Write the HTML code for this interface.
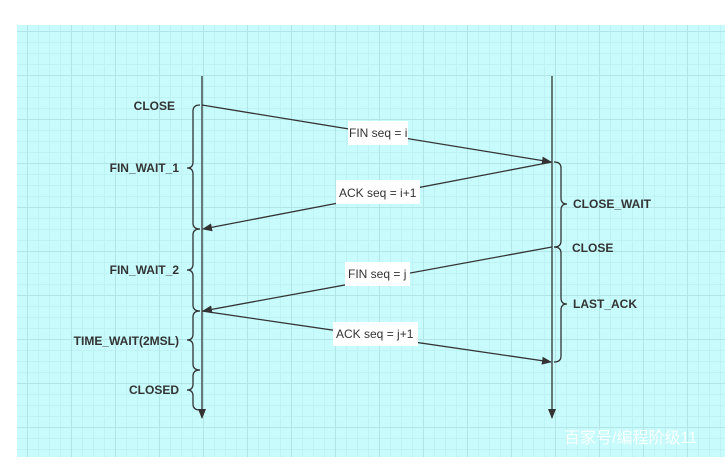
<!DOCTYPE html>
<html><head><style>
html,body{margin:0;padding:0;background:#fff;}
body{width:725px;height:469px;position:relative;overflow:hidden;font-family:"Liberation Sans","Noto Sans CJK SC",sans-serif;}
.bg{position:absolute;left:17px;top:25px;width:708px;height:432px;background-color:#c8fcfc;
background-image:linear-gradient(#b2e6e6 1px,transparent 1px),linear-gradient(90deg,#b2e6e6 1px,transparent 1px),linear-gradient(#bff2f2 1px,transparent 1px),linear-gradient(90deg,#bff2f2 1px,transparent 1px);
background-size:44px 44px,44px 44px,11px 11px,11px 11px;background-position:10px 6px,10px 6px,10px 6px,10px 6px;}
</style></head><body>
<div class="bg"></div>
<svg width="725" height="469" style="position:absolute;left:0;top:0" font-family="Liberation Sans, sans-serif">
<defs><marker id="a" markerWidth="10" markerHeight="8" refX="9" refY="4" orient="auto" markerUnits="userSpaceOnUse"><path d="M0,0 L10,4 L0,8 Z" fill="#333"/></marker></defs>
<g stroke="#333" stroke-width="1.3" fill="none">
<line x1="202" y1="76" x2="202" y2="418" marker-end="url(#a)"/>
<line x1="552" y1="76" x2="552" y2="418" marker-end="url(#a)"/>
<line x1="202" y1="105" x2="551" y2="162" marker-end="url(#a)"/>
<line x1="552" y1="162" x2="203" y2="229" marker-end="url(#a)"/>
<line x1="552" y1="247" x2="203" y2="311" marker-end="url(#a)"/>
<line x1="202" y1="311" x2="551" y2="362" marker-end="url(#a)"/>
<path d="M200,105 Q193,105 193,111 L193,162 Q193,168 187,168 Q193,168 193,174 L193,223 Q193,229 200,229"/>
<path d="M200,229 Q193,229 193,235 L193,264 Q193,270 187,270 Q193,270 193,276 L193,305 Q193,311 200,311"/>
<path d="M200,311 Q193,311 193,317 L193,334 Q193,340 187,340 Q193,340 193,346 L193,364 Q193,370 200,370"/>
<path d="M200,370 Q193,370 193,376 L193,384 Q193,390 187,390 Q193,390 193,396 L193,404 Q193,410 200,410"/>
<path d="M554,162 Q561,162 561,168 L561,198 Q561,204 567,204 Q561,204 561,210 L561,241 Q561,247 554,247"/>
<path d="M554,247 Q561,247 561,253 L561,298 Q561,304 567,304 Q561,304 561,310 L561,356 Q561,362 554,362"/>
</g>
<g fill="#fff"><rect x="348" y="121" width="60" height="24"/><rect x="336" y="180" width="84" height="24"/><rect x="345" y="262" width="65" height="24"/><rect x="333" y="322" width="85" height="24"/></g>
<g fill="#333" font-size="12"><text x="349" y="137">FIN seq = i</text><text x="339" y="197">ACK seq = i+1</text><text x="348" y="278">FIN seq = j</text><text x="336" y="338">ACK seq = j+1</text></g>
<g fill="#333" font-size="12" font-weight="bold">
<text x="175" y="110" text-anchor="end">CLOSE</text>
<text x="179" y="172" text-anchor="end">FIN_WAIT_1</text>
<text x="179" y="274" text-anchor="end">FIN_WAIT_2</text>
<text x="179" y="345" text-anchor="end">TIME_WAIT(2MSL)</text>
<text x="179" y="394" text-anchor="end">CLOSED</text>
<text x="573" y="208">CLOSE_WAIT</text>
<text x="572" y="252">CLOSE</text>
<text x="573" y="308">LAST_ACK</text>
</g>
<text x="564" y="443" fill="#fff" font-size="16" font-family="Liberation Sans, Noto Sans CJK SC, sans-serif" opacity="0.9">百家号/编程阶级11</text>
</svg>
</body></html>
